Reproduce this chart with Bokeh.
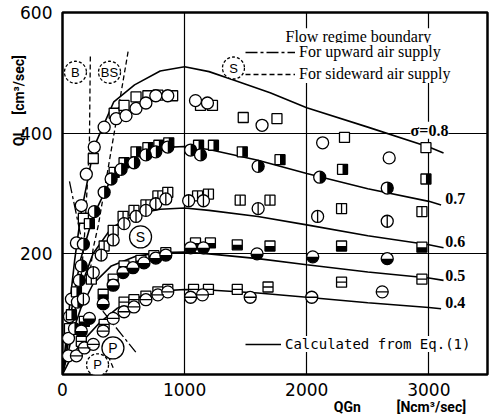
import numpy as np
from bokeh.plotting import figure
from bokeh.models import Range1d, FixedTicker, Label, Legend, LegendItem
from bokeh.core.properties import value
from bokeh.embed import file_html
from bokeh.resources import INLINE

# ---------------- data ----------------
x_ticks = [0, 1000, 2000, 3000]
y_ticks = [200, 400, 600]

# sigma = 0.8 : open circles / open squares
s08_circ_x = [49, 49, 57, 73, 114, 154, 195, 260, 341, 439, 520, 602, 683, 764, 862, 1089, 1187, 1634, 2130, 2675]
s08_circ_y = [31, 60, 96, 125, 218, 280, 332, 377, 410, 424, 429, 441, 450, 462, 462, 454, 450, 413, 384, 359]
s08_sq_x = [57, 171, 252, 423, 504, 602, 699, 781, 902, 1130, 1228, 1480, 1756, 2309, 2976]
s08_sq_y = [76, 259, 358, 433, 446, 460, 462, 463, 462, 446, 446, 426, 424, 393, 376]

# sigma = 0.7 : right-half black circles / squares
s07_circ_x = [98, 122, 138, 154, 171, 260, 341, 398, 480, 585, 683, 764, 862, 1049, 1130, 1602, 2106, 2659]
s07_circ_y = [76, 120, 156, 180, 216, 270, 302, 324, 340, 351, 364, 369, 377, 372, 364, 345, 327, 309]
s07_sq_x = [73, 114, 220, 423, 504, 602, 699, 789, 870, 1114, 1236, 1472, 1781, 2293, 2976]
s07_sq_y = [99, 137, 250, 335, 351, 369, 376, 380, 384, 380, 380, 369, 356, 340, 324]

# sigma = 0.6 : circles / squares with a vertical bar
s06_circ_x = [171, 252, 317, 415, 504, 602, 683, 764, 846, 1033, 1154, 1602, 2089, 2659]
s06_circ_y = [125, 169, 198, 223, 250, 262, 272, 283, 291, 288, 288, 275, 262, 254]
s06_sq_x = [236, 341, 415, 496, 585, 683, 781, 862, 1106, 1195, 1455, 1699, 2285, 2943]
s06_sq_y = [158, 213, 239, 262, 272, 281, 296, 302, 296, 299, 289, 289, 275, 270]

# sigma = 0.5 : bottom-half black circles / squares
s05_circ_x = [154, 220, 333, 415, 496, 577, 667, 764, 846, 1049, 1154, 1593, 2049, 2659]
s05_circ_y = [72, 93, 117, 148, 169, 177, 185, 193, 198, 210, 210, 200, 195, 192]
s05_sq_x = [179, 333, 415, 504, 642, 748, 846, 1089, 1211, 1431, 1699, 2285, 2943]
s05_sq_y = [88, 133, 158, 180, 189, 197, 202, 218, 218, 215, 213, 213, 211]

# sigma = 0.4 : circles / squares with a horizontal bar
s04_circ_x = [114, 179, 252, 333, 415, 504, 585, 683, 781, 862, 1049, 1146, 1537, 2041, 2618]
s04_circ_y = [31, 44, 50, 72, 93, 104, 112, 124, 132, 137, 128, 132, 128, 128, 137]
s04_sq_x = [154, 341, 504, 585, 683, 781, 862, 1073, 1195, 1431, 1683, 2285, 2943]
s04_sq_y = [55, 83, 120, 124, 130, 137, 141, 141, 141, 141, 145, 153, 158]

# calculated curves (Eq.(1))
c08_x = [0, 50, 100, 150, 260, 420, 590, 800, 1000, 1200, 1400, 1700, 2000, 2500, 3000, 3120]
c08_y = [0, 100, 190, 265, 378, 452, 480, 503, 510, 502, 488, 467, 442, 410, 377, 367]
c07_x = [0, 50, 100, 150, 250, 400, 600, 800, 1000, 1200, 1600, 2000, 2500, 3000, 3100]
c07_y = [0, 75, 140, 192, 262, 325, 360, 376, 378, 373, 355, 333, 308, 287, 281]
c06_x = [0, 50, 100, 150, 250, 400, 600, 800, 1000, 1200, 1600, 2000, 2500, 3000, 3120]
c06_y = [0, 55, 105, 145, 200, 243, 266, 274, 276, 272, 262, 248, 230, 215, 210]
c05_x = [0, 50, 100, 150, 250, 400, 600, 800, 1000, 1200, 1600, 2000, 2500, 3000, 3120]
c05_y = [0, 40, 80, 110, 150, 180, 196, 202, 203, 200, 192, 182, 170, 160, 156]
c04_x = [0, 50, 100, 150, 300, 450, 650, 850, 1000, 1200, 1600, 2000, 2500, 3000, 3100]
c04_y = [0, 20, 37, 52, 85, 110, 130, 139, 141, 140, 135, 128, 119, 111, 109]
sigma_labels = ["\u03c3=0.8", "0.7", "0.6", "0.5", "0.4"]

# flow regime boundaries
side_xs = [[228, 220, 179, 138], [537, 423, 293, 252, 220], [374, 415]]
side_ys = [[527, 377, 226, 128], [535, 400, 247, 210, 161], [31, 11]]
up_xs = [[57, 160], [330, 600]]
up_ys = [[320, 220], [105, 37]]

# regime labels
reg_solid_text = ["S", "P"]
reg_solid_x = [639, 413]
reg_solid_y = [228, 44]
reg_dash_text = ["B", "BS", "S", "P"]
reg_dash_x = [106, 385, 1400, 287]
reg_dash_y = [501, 501, 508, 16]

# ---------------- figure ----------------
X_MAX, Y_MAX = 3480, 600
W_FRAME, H_FRAME = 425, 365
p = figure(width=489, height=417, x_range=Range1d(0, X_MAX), y_range=Range1d(0, Y_MAX),
           output_backend="svg", toolbar_location=None,
           min_border_left=62, min_border_right=2, min_border_top=12, min_border_bottom=40)
p.background_fill_color = "white"
p.border_fill_color = "white"
p.outline_line_color = "black"
p.outline_line_width = 2.5

for ax in (p.xaxis[0], p.yaxis[0]):
    ax.axis_line_color = None
    ax.major_tick_line_color = None
    ax.minor_tick_line_color = None
    ax.major_label_text_font = "DejaVu Sans"
    ax.major_label_text_font_size = "17px"
    ax.major_label_text_color = "black"
    ax.axis_label_text_font = "Roboto"
    ax.axis_label_text_font_size = "14px"
    ax.axis_label_text_font_style = "bold"
    ax.axis_label_text_color = "black"
    ax.axis_label_standoff = 0
p.xaxis.ticker = FixedTicker(ticks=x_ticks)
p.yaxis.ticker = FixedTicker(ticks=y_ticks)
p.xaxis.major_label_standoff = 2
p.yaxis.major_label_standoff = 4
EM, EN = "\u2003", "\u2002"
p.xaxis.axis_label = EM * 17 + EN + "QGn" + EM * 2 + EN + "[Ncm\u00b3/sec]"
p.yaxis.axis_label = EM * 13 + "QL" + EM + "[cm\u00b3/sec]"
p.yaxis.axis_label_standoff = -10

p.xgrid.ticker = FixedTicker(ticks=[1000, 2000, 3000])
p.ygrid.ticker = FixedTicker(ticks=[200, 400])
for g in (p.xgrid[0], p.ygrid[0]):
    g.grid_line_color = "black"
    g.grid_line_width = 1.2
    g.grid_line_alpha = 1.0

# curves
curve_r = None
for cx, cy in [(c08_x, c08_y), (c07_x, c07_y), (c06_x, c06_y), (c05_x, c05_y), (c04_x, c04_y)]:
    r = p.line(cx, cy, line_color="black", line_width=1.6)
    if curve_r is None:
        curve_r = r

# boundaries
r_side = p.multi_line(side_xs, side_ys, line_color="black", line_width=1.3, line_dash="5 3")
r_up = p.multi_line(up_xs, up_ys, line_color="black", line_width=1.3, line_dash="12 3 3 3")

CS, SS, LW = 12, 10, 1.3
dxp = 2.5 * X_MAX / W_FRAME
dyp = 2.5 * Y_MAX / H_FRAME

def open_marks(xs, ys, marker, size):
    p.scatter(xs, ys, marker=marker, size=size, fill_color="white", line_color="black", line_width=LW)

# 0.8
open_marks(s08_sq_x, s08_sq_y, "square", SS)
open_marks(s08_circ_x, s08_circ_y, "circle", CS)
# 0.7
open_marks(s07_sq_x, s07_sq_y, "square", SS)
p.rect(np.array(s07_sq_x) + dxp, s07_sq_y, width=5, height=10, width_units="screen",
       height_units="screen", fill_color="black", line_color=None)
open_marks(s07_circ_x, s07_circ_y, "circle", CS)
p.wedge(s07_circ_x, s07_circ_y, radius=CS / 2, radius_units="screen",
        start_angle=-np.pi / 2, end_angle=np.pi / 2, fill_color="black", line_color=None)
# 0.6
open_marks(s06_sq_x, s06_sq_y, "square", SS)
p.scatter(s06_sq_x, s06_sq_y, marker="dash", size=SS, angle=np.pi / 2, line_color="black", line_width=LW)
open_marks(s06_circ_x, s06_circ_y, "circle", CS)
p.scatter(s06_circ_x, s06_circ_y, marker="dash", size=CS, angle=np.pi / 2, line_color="black", line_width=LW)
# 0.5
open_marks(s05_sq_x, s05_sq_y, "square", SS)
p.rect(s05_sq_x, np.array(s05_sq_y) - dyp, width=10, height=5, width_units="screen",
       height_units="screen", fill_color="black", line_color=None)
open_marks(s05_circ_x, s05_circ_y, "circle", CS)
p.wedge(s05_circ_x, s05_circ_y, radius=CS / 2, radius_units="screen",
        start_angle=np.pi, end_angle=2 * np.pi, fill_color="black", line_color=None)
# 0.4
open_marks(s04_sq_x, s04_sq_y, "square", SS)
p.scatter(s04_sq_x, s04_sq_y, marker="dash", size=SS, line_color="black", line_width=LW)
open_marks(s04_circ_x, s04_circ_y, "circle", CS)
p.scatter(s04_circ_x, s04_circ_y, marker="dash", size=CS, line_color="black", line_width=LW)

# regime labels
p.scatter(reg_solid_x, reg_solid_y, marker="circle", size=22, fill_color="white",
          line_color="black", line_width=1.3)
p.text(reg_solid_x, reg_solid_y, text=reg_solid_text, text_align="center", text_baseline="middle",
       text_font=value("Liberation Sans"), text_font_size="14px", text_color="black")
p.scatter(reg_dash_x, reg_dash_y, marker="circle", size=22, fill_color="white",
          line_color="black", line_width=1.3, line_dash="3 2")
p.text(reg_dash_x, reg_dash_y, text=reg_dash_text, text_align="center", text_baseline="middle",
       text_font=value("Liberation Sans"), text_font_size="13px", text_color="black")

# sigma labels
sig_pos = [(2850, 405), (3135, 291), (3135, 221), (3135, 164), (3135, 120)]
for t, (sx, sy) in zip(sigma_labels, sig_pos):
    p.add_layout(Label(x=sx, y=sy, text=t, text_font="Liberation Serif", text_font_size="16px",
                       text_font_style="bold", text_baseline="middle", text_align="left",
                       text_color="black",
                       background_fill_color="white" if t.startswith("\u03c3") else None))

# legends
leg1 = Legend(items=[LegendItem(label="For upward air supply", renderers=[r_up]),
                     LegendItem(label="For sideward air supply", renderers=[r_side])],
              location=(183, 291), border_line_color=None, background_fill_color="white",
              background_fill_alpha=1.0, label_text_font="Liberation Serif",
              label_text_font_size="16px", label_text_color="black",
              glyph_width=50, glyph_height=16, label_height=16,
              spacing=4, padding=1, margin=0, label_standoff=4)
leg2 = Legend(items=[LegendItem(label="Calculated from Eq.(1)", renderers=[curve_r])],
              location=(183, 22), border_line_color=None, background_fill_color="white",
              background_fill_alpha=1.0, label_text_font="DejaVu Sans Mono",
              label_text_font_size="14px", label_text_color="black",
              glyph_width=36, glyph_height=16, label_height=16,
              padding=2, margin=0, label_standoff=4)
p.add_layout(leg1)
p.add_layout(leg2)
p.add_layout(Label(x=1826, y=560, text="Flow regime boundary", text_font="Liberation Serif",
                   text_font_size="16px", text_baseline="middle", text_align="left",
                   text_color="black", background_fill_color="white"))

open("out.html", "w").write(file_html(p, INLINE))
